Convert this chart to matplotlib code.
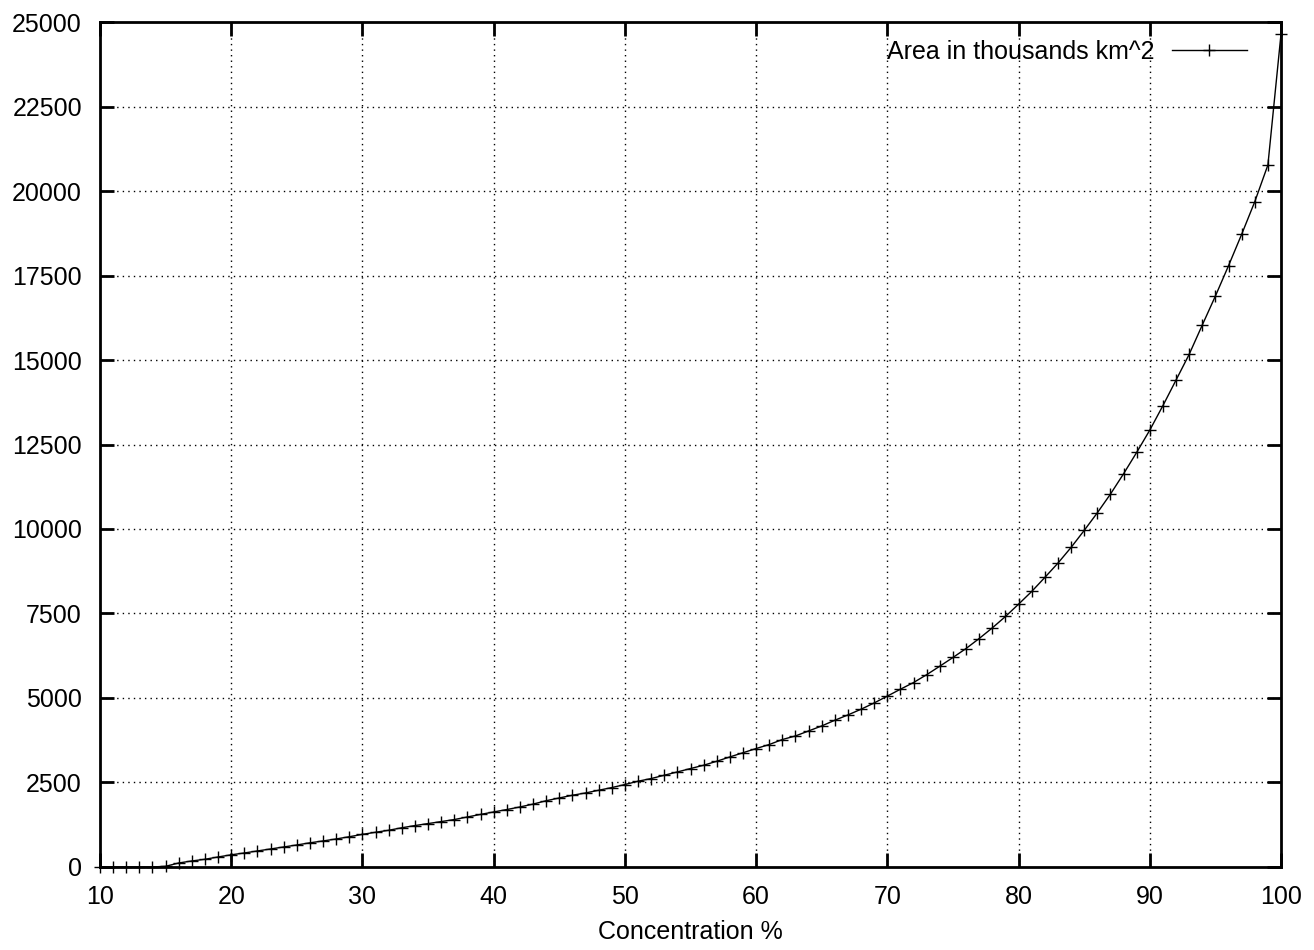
import matplotlib
matplotlib.use('Agg')
import matplotlib.pyplot as plt
import numpy as np

plt.rcParams['font.family'] = ['Liberation Sans', 'DejaVu Sans']

# concentration threshold (%) and area (thousands km^2)
concentration = list(range(10, 101))
area = [0, 0, 0, 0, 0, 20, 118, 178, 228, 296,
        360, 414, 474, 533, 592, 651, 715, 770, 829, 895,
        965, 1027, 1086, 1160, 1225, 1284, 1343, 1403, 1480, 1555,
        1628, 1699, 1776, 1860, 1960, 2042, 2122, 2190, 2270, 2349,
        2439, 2537, 2616, 2714, 2812, 2912, 3010, 3128, 3256, 3380,
        3504, 3623, 3771, 3877, 4025, 4173, 4342, 4499, 4668, 4854,
        5055, 5260, 5458, 5690, 5941, 6198, 6464, 6760, 7074, 7411,
        7776, 8151, 8566, 8990, 9454, 9957, 10478, 11032, 11633, 12266,
        12926, 13650, 14406, 15167, 16035, 16893, 17790, 18719, 19684, 20770,
        24648]
series_label = 'Area in thousands km^2'
x_ticks = list(range(10, 101, 10))
y_ticks = list(range(0, 25001, 2500))

fig = plt.figure(figsize=(13.14, 9.5), dpi=100)
ax = fig.add_axes([0.0761, 0.0874, 0.8988, 0.8894])

ax.plot(concentration, area, color='black', linewidth=1.0, marker='+',
        markersize=9, markeredgewidth=1.0, label=series_label, clip_on=False, zorder=3)

ax.set_xlim(10, 100)
ax.set_ylim(0, 25000)
ax.set_xticks(x_ticks)
ax.set_yticks(y_ticks)
ax.tick_params(axis='both', which='major', direction='in', length=10, width=2,
               top=True, right=True, labelsize=18, pad=13, colors='black')
ax.set_xlabel('Concentration %', fontsize=18, labelpad=8)

for v in x_ticks[1:-1]:
      ax.axvline(v, color='black', linewidth=1.0, linestyle=(0, (1, 3)), zorder=1)
for v in y_ticks[1:-1]:
      ax.axhline(v, color='black', linewidth=1.0, linestyle=(0, (1, 3)), zorder=1)

for spine in ax.spines.values():
      spine.set_linewidth(2)

ax.legend(loc='upper right', frameon=False, markerfirst=False, fontsize=18,
          handlelength=3.0, handletextpad=0.7, borderaxespad=0.3,
          bbox_to_anchor=(0.986, 1.0))

fig.savefig('out.png', dpi=100)
